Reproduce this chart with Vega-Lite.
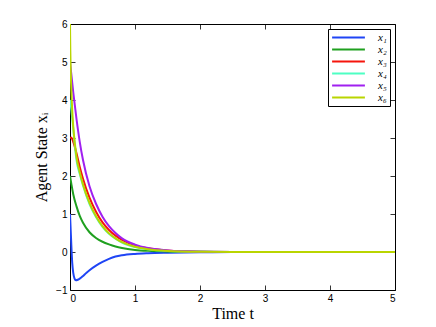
{
  "$schema": "https://vega.github.io/schema/vega-lite/v6.json",
  "width": 325,
  "height": 266,
  "autosize": {"type": "none"},
  "padding": {"left": 70, "top": 24, "right": 41, "bottom": 37},
  "background": "white",
  "config": {
    "view": {"stroke": null},
    "axis": {
      "grid": false,
      "domainColor": "black",
      "domainWidth": 1,
      "tickColor": "black",
      "tickWidth": 0.8,
      "tickSize": -5,
      "labelFont": "Liberation Sans",
      "labelFontSize": 10,
      "labelColor": "black",
      "titleFont": "Liberation Serif",
      "titleFontSize": 16,
      "titleFontWeight": "normal",
      "titleColor": "black"
    }
  },
  "data": {"values": [
    {"t":0,"s":"x₁","v":1},{"t":0.01,"s":"x₁","v":0.6},{"t":0.02,"s":"x₁","v":0.2},{"t":0.035,"s":"x₁","v":-0.3},{"t":0.05,"s":"x₁","v":-0.55},{"t":0.07,"s":"x₁","v":-0.7},{"t":0.09,"s":"x₁","v":-0.745},{"t":0.12,"s":"x₁","v":-0.73},{"t":0.15,"s":"x₁","v":-0.7},{"t":0.2,"s":"x₁","v":-0.63},{"t":0.25,"s":"x₁","v":-0.55},{"t":0.3,"s":"x₁","v":-0.48},{"t":0.4,"s":"x₁","v":-0.36},{"t":0.5,"s":"x₁","v":-0.26},{"t":0.6,"s":"x₁","v":-0.18},{"t":0.7,"s":"x₁","v":-0.12},{"t":0.8,"s":"x₁","v":-0.085},{"t":1,"s":"x₁","v":-0.05},{"t":1.2,"s":"x₁","v":-0.033},{"t":1.5,"s":"x₁","v":-0.02},{"t":2,"s":"x₁","v":-0.008},{"t":2.5,"s":"x₁","v":-0.003},{"t":3,"s":"x₁","v":-0.001},{"t":4,"s":"x₁","v":0},{"t":5,"s":"x₁","v":0},
    {"t":0,"s":"x₂","v":2},{"t":0.02,"s":"x₂","v":1.8},{"t":0.05,"s":"x₂","v":1.52},{"t":0.1,"s":"x₂","v":1.2},{"t":0.15,"s":"x₂","v":0.95},{"t":0.2,"s":"x₂","v":0.77},{"t":0.3,"s":"x₂","v":0.52},{"t":0.4,"s":"x₂","v":0.37},{"t":0.5,"s":"x₂","v":0.27},{"t":0.6,"s":"x₂","v":0.2},{"t":0.7,"s":"x₂","v":0.145},{"t":0.8,"s":"x₂","v":0.105},{"t":1,"s":"x₂","v":0.055},{"t":1.2,"s":"x₂","v":0.03},{"t":1.5,"s":"x₂","v":0.013},{"t":2,"s":"x₂","v":0.004},{"t":2.5,"s":"x₂","v":0.001},{"t":3,"s":"x₂","v":0},{"t":4,"s":"x₂","v":0},{"t":5,"s":"x₂","v":0},
    {"t":0,"s":"x₃","v":3},{"t":0.02,"s":"x₃","v":3.01},{"t":0.05,"s":"x₃","v":2.9},{"t":0.1,"s":"x₃","v":2.6},{"t":0.15,"s":"x₃","v":2.24},{"t":0.2,"s":"x₃","v":1.93},{"t":0.3,"s":"x₃","v":1.43},{"t":0.4,"s":"x₃","v":1.06},{"t":0.5,"s":"x₃","v":0.78},{"t":0.6,"s":"x₃","v":0.58},{"t":0.7,"s":"x₃","v":0.43},{"t":0.8,"s":"x₃","v":0.32},{"t":1,"s":"x₃","v":0.174},{"t":1.2,"s":"x₃","v":0.096},{"t":1.5,"s":"x₃","v":0.04},{"t":2,"s":"x₃","v":0.009},{"t":2.5,"s":"x₃","v":0.002},{"t":3,"s":"x₃","v":0},{"t":4,"s":"x₃","v":0},{"t":5,"s":"x₃","v":0},
    {"t":0,"s":"x₄","v":4},{"t":0.01,"s":"x₄","v":3.9},{"t":0.02,"s":"x₄","v":3.75},{"t":0.05,"s":"x₄","v":3.25},{"t":0.1,"s":"x₄","v":2.42},{"t":0.15,"s":"x₄","v":2.05},{"t":0.2,"s":"x₄","v":1.75},{"t":0.3,"s":"x₄","v":1.26},{"t":0.4,"s":"x₄","v":0.92},{"t":0.5,"s":"x₄","v":0.66},{"t":0.6,"s":"x₄","v":0.48},{"t":0.7,"s":"x₄","v":0.35},{"t":0.8,"s":"x₄","v":0.25},{"t":1,"s":"x₄","v":0.132},{"t":1.2,"s":"x₄","v":0.07},{"t":1.5,"s":"x₄","v":0.027},{"t":2,"s":"x₄","v":0.006},{"t":2.5,"s":"x₄","v":0.001},{"t":3,"s":"x₄","v":0},{"t":4,"s":"x₄","v":0},{"t":5,"s":"x₄","v":0},
    {"t":0,"s":"x₅","v":5},{"t":0.05,"s":"x₅","v":4.2},{"t":0.1,"s":"x₅","v":3.5},{"t":0.15,"s":"x₅","v":2.9},{"t":0.2,"s":"x₅","v":2.42},{"t":0.3,"s":"x₅","v":1.73},{"t":0.4,"s":"x₅","v":1.27},{"t":0.5,"s":"x₅","v":0.93},{"t":0.6,"s":"x₅","v":0.68},{"t":0.7,"s":"x₅","v":0.5},{"t":0.8,"s":"x₅","v":0.36},{"t":1,"s":"x₅","v":0.195},{"t":1.2,"s":"x₅","v":0.105},{"t":1.5,"s":"x₅","v":0.042},{"t":2,"s":"x₅","v":0.009},{"t":2.5,"s":"x₅","v":0.002},{"t":3,"s":"x₅","v":0},{"t":4,"s":"x₅","v":0},{"t":5,"s":"x₅","v":0},
    {"t":0,"s":"x₆","v":6},{"t":0.005,"s":"x₆","v":5.3},{"t":0.01,"s":"x₆","v":4.85},{"t":0.02,"s":"x₆","v":4.3},{"t":0.035,"s":"x₆","v":3.7},{"t":0.05,"s":"x₆","v":3.3},{"t":0.075,"s":"x₆","v":2.85},{"t":0.1,"s":"x₆","v":2.5},{"t":0.15,"s":"x₆","v":2.1},{"t":0.2,"s":"x₆","v":1.78},{"t":0.3,"s":"x₆","v":1.29},{"t":0.4,"s":"x₆","v":0.94},{"t":0.5,"s":"x₆","v":0.68},{"t":0.6,"s":"x₆","v":0.49},{"t":0.7,"s":"x₆","v":0.36},{"t":0.8,"s":"x₆","v":0.26},{"t":1,"s":"x₆","v":0.137},{"t":1.2,"s":"x₆","v":0.072},{"t":1.5,"s":"x₆","v":0.028},{"t":2,"s":"x₆","v":0.006},{"t":2.5,"s":"x₆","v":0.001},{"t":3,"s":"x₆","v":0},{"t":4,"s":"x₆","v":0},{"t":5,"s":"x₆","v":0}
  ]},
  "layer": [
    {
      "mark": {"type": "line", "strokeWidth": 2, "interpolate": "monotone", "clip": true},
      "encoding": {
        "x": {"field": "t", "type": "quantitative", "scale": {"domain": [0, 5], "nice": false},
          "axis": {"orient": "bottom", "title": "Time t", "values": [0,1,2,3,4,5], "labelPadding": 8, "titlePadding": 2}},
        "y": {"field": "v", "type": "quantitative", "scale": {"domain": [-1, 6], "nice": false},
          "axis": {"orient": "left", "title": "Agent State xᵢ", "values": [-1,0,1,2,3,4,5,6], "labelPadding": 8, "titlePadding": 6}},
        "color": {"field": "s", "type": "nominal",
          "scale": {"domain": ["x₁","x₂","x₃","x₄","x₅","x₆"], "range": ["#1f45f5","#1fa01f","#f5150c","#4dffc3","#a020f0","#b9d500"]},
          "legend": {"title": null, "orient": "top-right", "offset": 5, "symbolType": "M-4.1,0H4.1", "symbolStrokeWidth": 2, "symbolSize": 64, "symbolOffset": 12,
            "labelFont": "Liberation Serif", "labelFontStyle": "italic", "labelFontSize": 11, "labelColor": "black",
            "strokeColor": "black", "fillColor": "white", "padding": 3, "rowPadding": 0, "labelOffset": 24}}
      }
    },
    {
      "mark": {"type": "line", "opacity": 0},
      "encoding": {
        "x": {"field": "t", "type": "quantitative", "axis": {"orient": "top", "title": null, "labels": false, "values": [0,1,2,3,4,5]}},
        "y": {"field": "v", "type": "quantitative", "axis": {"orient": "right", "title": null, "labels": false, "values": [-1,0,1,2,3,4,5,6]}},
        "detail": {"field": "s"}
      }
    }
  ],
  "resolve": {"axis": {"x": "independent", "y": "independent"}}
}
